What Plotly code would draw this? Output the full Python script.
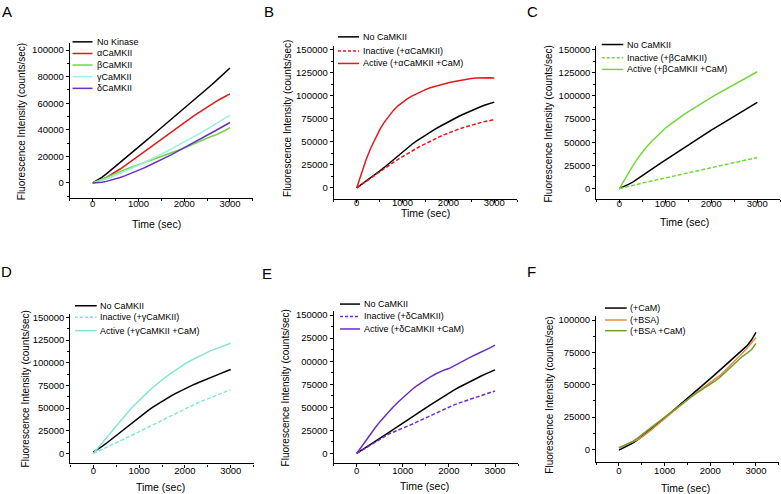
import plotly.graph_objects as go

W, H = 781, 494
FONT = "Liberation Sans, Arial, sans-serif"

# ---------------- data ----------------
t = [0, 100, 200, 300, 400, 500, 600, 700, 800, 900, 1000, 1100, 1200, 1300, 1400, 1500,
     1600, 1700, 1800, 1900, 2000, 2100, 2200, 2300, 2400, 2500, 2600, 2700, 2800, 2900, 3000]

# Panel A
a_no_kinase = [0, 1800, 4200, 6900, 9700, 12500, 15400, 18300, 21200, 24100, 27000, 29900, 32800, 35700, 38600, 41500,
               44400, 47300, 50200, 53100, 56000, 58900, 61800, 64800, 67800, 70800, 73900, 77000, 80100, 83300, 86500]
a_alpha = [0, 1000, 2500, 4200, 6100, 8200, 10500, 12900, 15400, 18000, 20700, 23300, 25900, 28400, 30900, 33400,
           35900, 38400, 40900, 43300, 45700, 48000, 50300, 52600, 54900, 57100, 59300, 61400, 63400, 65300, 67000]
a_beta = [0, 1200, 2600, 4100, 5700, 7300, 8700, 10000, 11300, 12500, 13700, 14900, 16100, 17300, 18500, 19800,
          21100, 22400, 23700, 25000, 26300, 27800, 29400, 31100, 32800, 34300, 35200, 36300, 37800, 39700, 41700]
a_gamma = [0, 900, 1900, 3000, 4300, 5700, 7100, 8600, 10100, 11700, 13300, 14900, 16500, 18200, 19900, 21700,
           23500, 25300, 27100, 28900, 30800, 32700, 34600, 36500, 38500, 40500, 42500, 44600, 46700, 48800, 51000]
a_delta = [0, 200, 600, 1200, 2000, 3000, 4100, 5300, 6600, 8000, 9500, 11000, 12600, 14200, 15800, 17500,
           19200, 21000, 22800, 24600, 26400, 28300, 30200, 32100, 34000, 35900, 37800, 39700, 41600, 43500, 45500]

# Panel B (alpha)
b_none = [0, 3500, 7000, 10700, 14500, 18300, 22200, 26500, 30800, 35100, 39300, 43300, 47100, 50700, 54100, 57300,
          60400, 63400, 66300, 69100, 71800, 74400, 76900, 79300, 81600, 83800, 85900, 87900, 89800, 91500, 93000]
b_inactive = [0, 3600, 7200, 10800, 14300, 17800, 21200, 24500, 27800, 31000, 34100, 37100, 40000, 42800, 45500, 48100,
              50600, 53000, 55300, 57500, 59600, 61500, 63300, 65000, 66600, 68100, 69500, 70800, 72000, 73100, 74000]
b_active = [0, 16000, 30000, 42500, 53500, 63000, 71000, 78000, 84000, 89000, 93000, 96500, 99500, 102000, 104500, 106500,
            108500, 110000, 111500, 113000, 114000, 115000, 116000, 117000, 117800, 118500, 119000, 119300, 119500, 119300, 119000]

# Panel C (beta)
c_none = [0, 2000, 4500, 7300, 10500, 14000, 17300, 20600, 23900, 27300, 30700, 34000, 37300, 40600, 43900, 47200,
          50400, 53600, 56800, 59900, 63000, 66000, 69000, 72000, 75000, 78000, 81000, 84000, 86900, 89900, 93000]
c_inactive = [0, 1300, 2500, 3700, 4800, 5900, 7000, 8100, 9200, 10300, 11400, 12500, 13600, 14700, 15800, 16900,
              18000, 19100, 20200, 21300, 22400, 23500, 24600, 25700, 26800, 27900, 29000, 30100, 31200, 32300, 33500]
c_active = [0, 8600, 17000, 25000, 32600, 39700, 45400, 50800, 55800, 60500, 65000, 69000, 72800, 76400, 79800, 83000,
            86200, 89300, 92400, 95400, 98400, 101300, 104100, 106900, 109700, 112400, 115100, 117800, 120500, 123300, 126000]

# Panel D (gamma)
d_none = [1500, 4500, 8000, 11800, 15800, 20000, 24200, 28300, 32300, 36300, 40200, 43900, 47500, 51000, 54300, 57500,
          60500, 63400, 66200, 68900, 71400, 73800, 76100, 78300, 80500, 82600, 84600, 86600, 88600, 90600, 92500]
d_inactive = [0, 2200, 4500, 6900, 9300, 11700, 14100, 16500, 19000, 21400, 23900, 26400, 28900, 31400, 33900, 36500,
              39100, 41700, 44300, 46900, 49400, 51700, 54000, 56200, 58400, 60500, 62600, 64600, 66600, 68500, 70400]
d_active = [0, 6000, 12300, 18700, 25000, 31100, 37000, 42700, 48200, 53500, 58600, 63500, 68200, 72700, 77000, 81100,
            85000, 88700, 92200, 95600, 98800, 101700, 104400, 107000, 109400, 111700, 113900, 116000, 118000, 119900, 121500]

# Panel E (delta)
e_none = [0, 3100, 6300, 9500, 12800, 16200, 19500, 22800, 26000, 29200, 32400, 35800, 39200, 42600, 46000, 49400,
          52700, 56000, 59200, 62400, 65500, 68400, 71200, 73900, 76500, 79000, 81500, 83900, 86200, 88400, 90600]
e_inactive = [0, 3100, 6300, 9400, 12600, 15700, 18600, 21200, 23300, 25200, 27000, 29300, 31600, 34000, 36400, 38800,
              41200, 43600, 45900, 48200, 50400, 52400, 54300, 56100, 57900, 59700, 61400, 63000, 64600, 66100, 67600]
e_active = [0, 7200, 14300, 21200, 27800, 34200, 40000, 45500, 50800, 55800, 60500, 65000, 69300, 73200, 76800, 80000,
            83000, 85800, 88500, 90500, 92000, 94800, 97600, 100300, 102800, 105200, 107500, 109700, 111900, 114600, 117500]

# Panel F (controls)
f_cam = [-500, 1200, 3000, 5000, 7300, 9900, 12700, 15500, 18400, 21300, 24300, 27200, 30100, 33000, 36000, 39000,
         42100, 45300, 48500, 51700, 54700, 57800, 61000, 64200, 67400, 70500, 73500, 76800, 80000, 84500, 90500]
f_bsa = [1500, 3000, 4300, 5700, 7400, 9500, 12000, 14900, 17900, 20900, 23900, 26900, 29900, 32900, 35800, 38600,
         41300, 43900, 46400, 48800, 51300, 54000, 57000, 60200, 63600, 67000, 70600, 74300, 78100, 82200, 86500]
f_bsa_cam = [1000, 2600, 4300, 6300, 8600, 11200, 14000, 16900, 19700, 22400, 25000, 27700, 30500, 33400, 36300, 39000,
             41500, 43700, 45800, 47900, 50100, 52700, 55500, 58600, 61800, 65200, 68500, 71800, 74500, 77000, 82000]

x_ticks = [0, 1000, 2000, 3000]
y_ticks_100k = [0, 20000, 40000, 60000, 80000, 100000]
y_ticks_150k = [0, 25000, 50000, 75000, 100000, 125000, 150000]
y_ticks_F = [0, 25000, 50000, 75000, 100000]
E_tick_text = ["0", "25000", "50000", "75000", "00000", "25000", "150000"]

BLACK = "#000000"
RED = "#e3191c"
GREEN = "#72d83a"
CYAN = "#86e6d6"
PURPLE = "#6a2fc4"
ORANGE = "#ea8a43"
OLIVE = "#6f9e2a"

# ---------------- panel geometry (pixel calibration) ----------------
panels = [
    dict(letter="A", x0=92.7, x3k=230.0, y0=181.7, ytk=48.3, ytv=100000, yr=[-11500, 105000],
         yt=y_ticks_100k, ytt=None, ymin=10000, xstand=-7,
         series=[(a_no_kinase, BLACK, "solid", "No Kinase"),
                 (a_alpha, RED, "solid", "αCaMKII"),
                 (a_beta, GREEN, "solid", "βCaMKII"),
                 (a_gamma, "#9cefe6", "solid", "γCaMKII"),
                 (a_delta, PURPLE, "solid", "δCaMKII")],
         leg_x=(72.5, 92.5, 94.5), leg_y=[40, 51.7, 63.3, 75, 86.7],
         letter_xy=(7, 10), ytitle=(21, 120.7), xtitle=(156.7, 222.7)),
    dict(letter="B", x0=356.7, x3k=494.3, y0=186.7, ytk=47.7, ytv=150000, yr=[-11500, 154000],
         yt=y_ticks_150k, ytt=None, ymin=12500, xstand=-8,
         series=[(b_none, BLACK, "solid", "No CaMKII"),
                 (b_inactive, RED, "dash", "Inactive (+αCaMKII)"),
                 (b_active, RED, "solid", "Active (+αCaMKII +CaM)")],
         leg_x=(338, 359, 360.5), leg_y=[35, 49.3, 61.7],
         letter_xy=(268.7, 10), ytitle=(287.7, 116.7), xtitle=(425, 211.5)),
    dict(letter="C", x0=619.3, x3k=757.3, y0=187.3, ytk=47.7, ytv=150000, yr=[-11000, 154000],
         yt=y_ticks_150k, ytt=None, ymin=12500, xstand=-7,
         series=[(c_none, BLACK, "solid", "No CaMKII"),
                 (c_inactive, GREEN, "dash", "Inactive (+βCaMKII)"),
                 (c_active, GREEN, "solid", "Active (+βCaMKII +CaM)")],
         leg_x=(601.7, 623.3, 624.5), leg_y=[42.7, 56, 67.7],
         letter_xy=(532, 10), ytitle=(548.3, 122.7), xtitle=(684.3, 221)),
    dict(letter="D", x0=93.3, x3k=230.7, y0=453.3, ytk=316.7, ytv=150000, yr=[-11000, 154000],
         yt=y_ticks_150k, ytt=None, ymin=12500, xstand=-5,
         series=[(d_none, BLACK, "solid", "No CaMKII"),
                 (d_inactive, CYAN, "dash", "Inactive (+γCaMKII)"),
                 (d_active, CYAN, "solid", "Active (+γCaMKII +CaM)")],
         leg_x=(75, 96.7, 98), leg_y=[305, 316.5, 330],
         letter_xy=(6.7, 270.5), ytitle=(25, 389), xtitle=(160, 486.7)),
    dict(letter="E", x0=356.7, x3k=495.0, y0=453.3, ytk=314.3, ytv=150000, yr=[-10000, 154000],
         yt=y_ticks_150k, ytt=E_tick_text, ymin=12500, xstand=-4,
         series=[(e_none, BLACK, "solid", "No CaMKII"),
                 (e_inactive, PURPLE, "dash", "Inactive (+δCaMKII)"),
                 (e_active, PURPLE, "solid", "Active (+δCaMKII +CaM)")],
         leg_x=(340, 360, 361.5), leg_y=[303.3, 315.7, 328.3],
         letter_xy=(266.7, 272.5), ytitle=(285, 388), xtitle=(424, 485.7)),
    dict(letter="F", x0=619.0, x3k=756.0, y0=449.3, ytk=319.3, ytv=100000, yr=[-9500, 103000],
         yt=y_ticks_F, ytt=None, ymin=12500, xstand=-3,
         series=[(f_cam, BLACK, "solid", "(+CaM)"),
                 (f_bsa, ORANGE, "solid", "(+BSA)"),
                 (f_bsa_cam, OLIVE, "solid", "(+BSA +CaM)")],
         leg_x=(605, 626.7, 628), leg_y=[307.3, 319.3, 330],
         letter_xy=(531.7, 270.8), ytitle=(549.3, 395), xtitle=(685, 487.7)),
]

XR = [-500, 3500]

fig = go.Figure()
annotations = []
shapes = []


def fx(px):
    return px / W


def fy(py):
    return 1 - py / H


for i, p in enumerate(panels):
    sfx = "" if i == 0 else str(i + 1)
    xname, yname = "x" + sfx, "y" + sfx
    xs = (p["x3k"] - p["x0"]) / 3000.0
    xd = [fx(p["x0"] + XR[0] * xs), fx(p["x0"] + XR[1] * xs)]
    ys = (p["y0"] - p["ytk"]) / p["ytv"]
    yd = [fy(p["y0"] - p["yr"][0] * ys), fy(p["y0"] - p["yr"][1] * ys)]
    xd = [max(0, min(1, v)) for v in xd]

    for (vals, col, dash, name) in p["series"]:
        fig.add_trace(go.Scatter(x=t, y=vals, mode="lines", name=name, showlegend=False,
                                 line=dict(color=col, width=1.5, dash=("4px,2px" if dash == "dash" else "solid")),
                                 xaxis=xname, yaxis=yname, hoverinfo="skip"))

    common = dict(showline=True, linecolor="black", linewidth=1.2, ticks="outside", ticklen=3,
                  tickwidth=1.1, tickcolor="black", showgrid=False, zeroline=False,
                  tickfont=dict(family=FONT, size=9.5, color="black"))
    fig.update_layout(**{
        "xaxis" + sfx: dict(domain=xd, range=XR, anchor=yname, tickmode="array", tickvals=x_ticks,
                            ticklabelstandoff=p["xstand"],
                            minor=dict(ticks="outside", ticklen=2, tickcolor="black", dtick=500, tick0=0, showgrid=False),
                            **common),
        "yaxis" + sfx: dict(domain=yd, range=p["yr"], anchor=xname, tickmode="array", tickvals=p["yt"],
                            ticktext=(p["ytt"] if p["ytt"] else [str(v) for v in p["yt"]]),
                            minor=dict(ticks="outside", ticklen=2, tickcolor="black", dtick=p["ymin"], tick0=0, showgrid=False),
                            **common),
    })

    annotations.append(dict(text=p["letter"], x=fx(p["letter_xy"][0]), y=fy(p["letter_xy"][1]),
                            xref="paper", yref="paper", showarrow=False, xanchor="center", yanchor="middle",
                            font=dict(family=FONT, size=15, color="black")))
    annotations.append(dict(text="Fluorescence Intensity (counts/sec)", x=fx(p["ytitle"][0]), y=fy(p["ytitle"][1]),
                            xref="paper", yref="paper", showarrow=False, textangle=-90,
                            xanchor="center", yanchor="middle",
                            font=dict(family=FONT, size=10, color="black")))
    annotations.append(dict(text="Time (sec)", x=fx(p["xtitle"][0]), y=fy(p["xtitle"][1]),
                            xref="paper", yref="paper", showarrow=False, xanchor="center", yanchor="middle",
                            font=dict(family=FONT, size=10.5, color="black")))
    lx0, lx1, ltx = p["leg_x"]
    for (vals, col, dash, name), ly in zip(p["series"], p["leg_y"]):
        shapes.append(dict(type="line", xref="paper", yref="paper", x0=fx(lx0), x1=fx(lx1), y0=fy(ly), y1=fy(ly),
                           line=dict(color=col, width=1.5, dash=("3px,2px" if dash == "dash" else "solid"))))
        annotations.append(dict(text=name, x=fx(ltx), y=fy(ly), xref="paper", yref="paper", showarrow=False,
                                xanchor="left", yanchor="middle",
                                font=dict(family=FONT, size=9, color="black")))

fig.update_layout(width=W, height=H, margin=dict(l=0, r=0, t=0, b=0),
                  paper_bgcolor="white", plot_bgcolor="white",
                  annotations=annotations, shapes=shapes, showlegend=False)

fig.write_html("out.html", config={"displayModeBar": False},
               post_script="document.body.style.margin='0';document.body.style.overflow='hidden';")
